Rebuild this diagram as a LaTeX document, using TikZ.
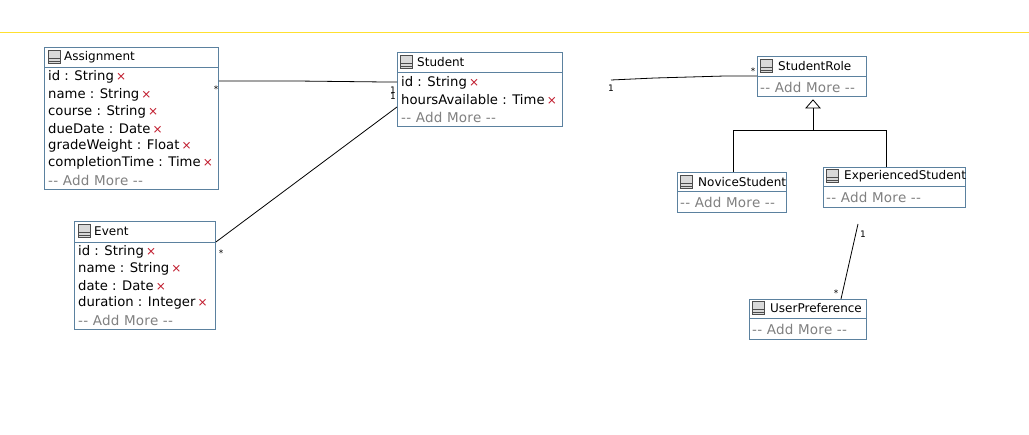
\documentclass[tikz,border=0pt]{standalone}
\usepackage{fontspec}
\setmainfont{DejaVu Sans}
\usetikzlibrary{calc}
\definecolor{boxblue}{HTML}{5B819F}
\definecolor{addgray}{HTML}{808080}
\definecolor{xred}{HTML}{C0182A}
\definecolor{hiline}{HTML}{FFE030}
\newcommand{\rx}{\,{\color{xred}\fontsize{12}{12}\selectfont ×}}
\begin{document}
\begin{tikzpicture}[x=1pt,y=-1pt,
  classbox/.style={draw=boxblue, line width=0.9pt, fill=white, anchor=north west, inner sep=0pt},
  divline/.style={draw=boxblue, line width=0.9pt},
  title/.style={anchor=west, inner sep=0pt, font=\fontsize{12}{14}\selectfont},
  attr/.style={anchor=west, inner sep=0pt, font=\fontsize{13.2}{14}\selectfont},
  addmore/.style={anchor=west, inner sep=0pt, text=addgray, font=\fontsize{13.5}{14}\selectfont\addfontfeatures{LetterSpace=2}},
  icon/.style={draw=black!70, fill=black!15, line width=0.7pt, minimum width=11.5pt, minimum height=13pt, inner sep=0pt, anchor=west},
  assoc/.style={draw=black, line width=0.8pt},
  mult/.style={inner sep=0pt, font=\fontsize{9}{9}\selectfont\rmfamily}
]
\fontspec{DejaVu Sans}
\useasboundingbox (0,0) rectangle (1029,435);
\fill[white] (0,0) rectangle (1029,435);
\draw[hiline, line width=1pt] (0,32.5) -- (1029,32.5);

% icon macro
\def\clsicon#1#2#3{%
  \node[icon] (#1) at (#2,#3) {};
  \draw[black!70, line width=0.6pt] ($(#1.west)+(0,1.5)$) -- ($(#1.east)+(0,1.5)$);
  \draw[black!70, line width=0.6pt] ($(#1.west)+(0,4)$) -- ($(#1.east)+(0,4)$);
}

% ---------- Assignment ----------
\node[classbox, minimum width=174pt, minimum height=142pt] (assign) at (44,47) {};
\draw[divline] (44,67) -- (218,67);
\clsicon{assignicon}{48}{57}
\node[title] (assigntitle) at (64,57) {Assignment};
\node[attr] (a1) at (48,77) {id : String\rx};
\node[attr] (a2) at (48,95) {name : String\rx};
\node[attr] (a3) at (48,112) {course : String\rx};
\node[attr] (a4) at (48,129) {dueDate : Date\rx};
\node[attr] (a5) at (48,146) {gradeWeight : Float\rx};
\node[attr] (a6) at (48,163) {completionTime : Time\rx};
\node[addmore] (a7) at (48,180) {-- Add More --};

% ---------- Student ----------
\node[classbox, minimum width=165pt, minimum height=74pt] (student) at (397,52) {};
\draw[divline] (397,72) -- (562,72);
\clsicon{studenticon}{400}{62}
\node[title] (studenttitle) at (417,62) {Student};
\node[attr] (s1) at (401,83) {id : String\rx};
\node[attr] (s2) at (401,100) {hoursAvailable : Time\rx};
\node[addmore] (s3) at (401,117) {-- Add More --};

% ---------- Event ----------
\node[classbox, minimum width=141pt, minimum height=108pt] (event) at (74,221) {};
\draw[divline] (74,242) -- (215,242);
\clsicon{eventicon}{78}{231}
\node[title] (eventtitle) at (94,231) {Event};
\node[attr] (e1) at (78,252) {id : String\rx};
\node[attr] (e2) at (78,269) {name : String\rx};
\node[attr] (e3) at (78,286) {date : Date\rx};
\node[attr] (e4) at (78,303) {duration : Integer\rx};
\node[addmore] (e5) at (78,320) {-- Add More --};

% ---------- StudentRole ----------
\node[classbox, minimum width=109pt, minimum height=40pt] (role) at (757,56) {};
\draw[divline] (757,76) -- (866,76);
\clsicon{roleicon}{760}{66}
\node[title] (roletitle) at (778,66) {StudentRole};
\node[addmore] (r1) at (760,87) {-- Add More --};

% ---------- NoviceStudent ----------
\node[classbox, minimum width=109pt, minimum height=40pt] (novice) at (677,172) {};
\draw[divline] (677,191) -- (786,191);
\clsicon{noviceicon}{680}{182}
\node[title] (novicetitle) at (698,182) {NoviceStudent};
\node[addmore] (n1) at (680,202) {-- Add More --};

% ---------- ExperiencedStudent ----------
\node[classbox, minimum width=142pt, minimum height=40pt] (exper) at (823,167) {};
\draw[divline] (823,186) -- (965,186);
\clsicon{expericon}{826}{176}
\node[title] (expertitle) at (844,176) {ExperiencedStudent};
\node[addmore] (x1) at (826,197) {-- Add More --};

% ---------- UserPreference ----------
\node[classbox, minimum width=117pt, minimum height=40pt] (pref) at (749,299) {};
\draw[divline] (749,318) -- (866,318);
\clsicon{preficon}{752}{308}
\node[title] (preftitle) at (770,308) {UserPreference};
\node[addmore] (p1) at (752,329) {-- Add More --};

% ---------- Associations ----------
\draw[assoc] ($(assign.north east)+(0,34)$) -- ($(assign.north east)+(77,34)$) -- ($(student.north west)+(-12,30)$) -- ($(student.north west)+(0,30)$);
\node[mult] (m1) at (216,89) {*};
\node[mult] (m2) at (393,90) {1};

\draw[assoc] ($(event.north east)+(0,21)$) -- ($(student.north west)+(0,55)$);
\node[mult] (m3) at (221,253) {*};
\node[mult] (m4) at (393,96) {1};

\coordinate (rolefree) at (611,80);
\draw[assoc] (rolefree) -- (655,78) -- (725,76) -- ($(role.north west)+(0,20)$);
\node[mult] (m5) at (611,88) {1};
\node[mult] (m6) at (753,71) {*};

\coordinate (prefree) at (858,224);
\draw[assoc] (prefree) -- ($(pref.north west)+(92,0)$);
\node[mult] (m7) at (863,234) {1};
\node[mult] (m8) at (836,293) {*};

% ---------- Generalization ----------
\coordinate (genjoin) at (813,130);
\draw[assoc] (novice.north -| 733,0) -- (733,130) -- (886,130) -- (exper.north -| 886,0);
\draw[assoc] (genjoin) -- (813,108);
\draw[assoc, fill=white] (role.south -| 813,0) ++(0,3) -- (806,108) -- (820,108) -- cycle;
\end{tikzpicture}
\end{document}
